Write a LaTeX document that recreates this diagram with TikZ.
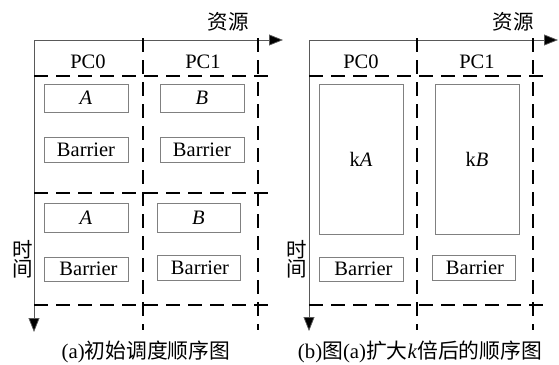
\documentclass[tikz,border=0pt]{standalone}
\usepackage{fontspec}
\setmainfont{Liberation Serif}
\newfontfamily\cjk{Noto Sans CJK SC}
\usetikzlibrary{arrows.meta}
\begin{document}
\begin{tikzpicture}[x=1pt,y=-1pt,
  font=\fontsize{20.5}{24}\selectfont,
  axis/.style={line width=0.7pt,draw=black!65,-{Triangle[length=14pt,width=11pt,fill=black]}},
  grid/.style={line width=1.8pt,dash pattern=on 14pt off 8pt},
  taskbox/.style={draw=black!50,line width=0.7pt,inner sep=0pt,minimum width=84pt},
  lbl/.style={inner sep=0pt},
  captext/.style={inner sep=0pt,font=\fontsize{20.8}{24}\selectfont}]
\useasboundingbox (0,0) rectangle (559,364);

% ---------- panel (a) ----------
\coordinate (oa) at (34,40);
\coordinate (ra) at (283,40);
\coordinate (ta) at (34,332);
\draw[axis] (oa) -- (ra);
\draw[axis] (oa) -- (ta);
\node[lbl] (resa) at (228,22) {\cjk 资源};
\node[lbl,align=center,font=\fontsize{20.5}{18}\selectfont] (tima) at (23,259) {\cjk 时\\\cjk 间};

% grid of processors and steps
\coordinate (va1t) at (143,38);  \coordinate (va1b) at (143,330);
\coordinate (va2t) at (258,38);  \coordinate (va2b) at (258,330);
\coordinate (ha1l) at (34,76);   \coordinate (ha1r) at (272,76);
\coordinate (ha2l) at (34,193);  \coordinate (ha2r) at (272,193);
\coordinate (ha3l) at (34,305);  \coordinate (ha3r) at (272,305);
\draw[grid] (va1t) -- (va1b);
\draw[grid] (va2t) -- (va2b);
\draw[grid] (ha1l) -- (ha1r);
\draw[grid] (ha2l) -- (ha2r);
\draw[grid] (ha3l) -- (ha3r);

\node[lbl] (pc0a) at (88,62) {PC0};
\node[lbl] (pc1a) at (203,62) {PC1};

\node[taskbox,minimum height=28pt] (a1) at (86,98) {\textit{A}};
\node[taskbox,minimum height=28pt] (b1) at (202,98) {\textit{B}};
\node[taskbox,minimum height=25pt] (bar1) at (86,149.5) {Barrier};
\node[taskbox,minimum height=25pt] (bar2) at (202,149.5) {Barrier};
\node[taskbox,minimum height=29pt] (a2) at (86,217.5) {\textit{A}};
\node[taskbox,minimum height=29pt,minimum width=83pt] (b2) at (198.5,217.5) {\textit{B}};
\node[taskbox,minimum height=24pt] (bar3) at (86,269) {\hspace{5pt}Barrier};
\node[taskbox,minimum height=25pt,minimum width=83pt] (bar4) at (198.5,267.5) {\hspace{3pt}Barrier};

\node[captext] (capa) at (146,352) {(a)\cjk 初始调度顺序图};

% ---------- panel (b) ----------
\coordinate (ob) at (309,40);
\coordinate (rb) at (558,40);
\coordinate (tb) at (309,331);
\draw[axis] (ob) -- (rb);
\draw[axis] (ob) -- (tb);
\node[lbl] (resb) at (513,22) {\cjk 资源};
\node[lbl,align=center,font=\fontsize{20.5}{18}\selectfont] (timb) at (297,259) {\cjk 时\\\cjk 间};

\coordinate (vb1t) at (417,38);  \coordinate (vb1b) at (417,330);
\coordinate (vb2t) at (533,38);  \coordinate (vb2b) at (533,330);
\coordinate (hb1l) at (309,76);  \coordinate (hb1r) at (547,76);
\coordinate (hb3l) at (309,305); \coordinate (hb3r) at (547,305);
\draw[grid] (vb1t) -- (vb1b);
\draw[grid] (vb2t) -- (vb2b);
\draw[grid] (hb1l) -- (hb1r);
\draw[grid] (hb3l) -- (hb3r);

\node[lbl] (pc0b) at (361,62) {PC0};
\node[lbl] (pc1b) at (477,62) {PC1};

\node[taskbox,minimum height=150pt] (ka) at (361,159) {k\textit{A}};
\node[taskbox,minimum height=150pt] (kb) at (477,159) {k\textit{B}};
\node[taskbox,minimum height=24pt] (bar5) at (361,269) {\hspace{5pt}Barrier};
\node[taskbox,minimum height=25pt,minimum width=83pt] (bar6) at (473.5,267.5) {\hspace{3pt}Barrier};

\node[captext] (capb) at (420,352) {(b)\cjk 图\rmfamily(a)\cjk 扩大\rmfamily\textit{k}\cjk 倍后的顺序图};
\end{tikzpicture}
\end{document}
